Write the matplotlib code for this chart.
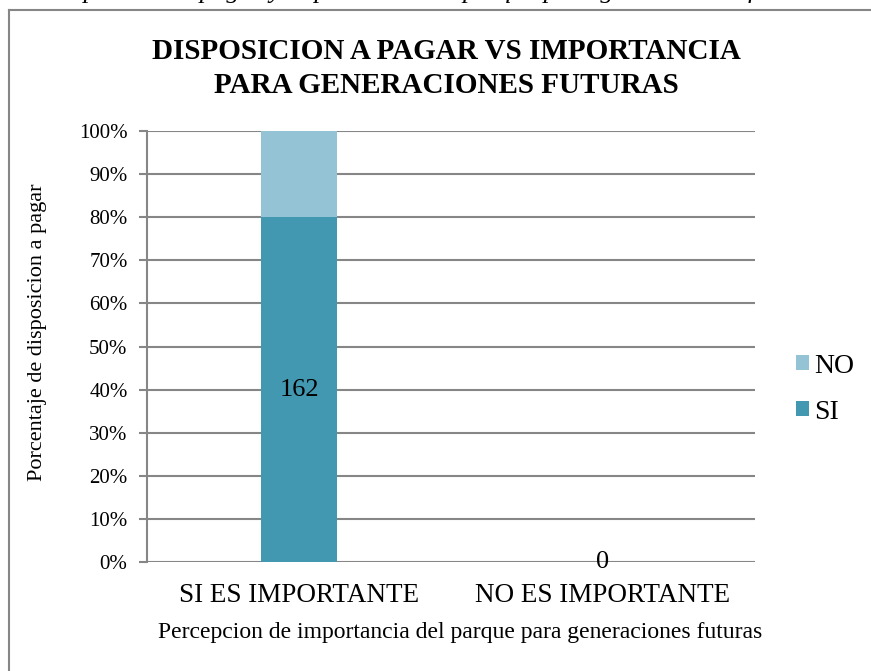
import numpy as np
import matplotlib
matplotlib.use('Agg')
import matplotlib.pyplot as plt
from matplotlib.lines import Line2D

plt.rcParams['font.family'] = ['Liberation Serif', 'DejaVu Serif']

# data
categories = ['SI ES IMPORTANTE', 'NO ES IMPORTANTE']
si_counts = [162, 0]
si_pct = [80, 0]
no_pct = [20, 0]
colors = {'SI': '#4298B0', 'NO': '#93C3D5'}

fig = plt.figure(figsize=(8.71, 6.71), dpi=100)
ax = fig.add_axes([147 / 871, 109 / 671, 608 / 871, 431 / 671])

x = np.arange(len(categories))
width = 0.253
b_si = ax.bar(x, si_pct, width, color=colors['SI'], label='SI', zorder=3)
b_no = ax.bar(x, no_pct, width, bottom=si_pct, color=colors['NO'], label='NO', zorder=3)

# data labels
for i, r in enumerate(b_si):
    ax.text(r.get_x() + r.get_width() / 2, si_pct[i] / 2, str(si_counts[i]),
            ha='center', va='center', fontsize=19, zorder=4)

ax.set_xlim(-0.5, 1.5)
ax.set_ylim(0, 100)
ax.set_yticks(np.arange(0, 101, 10))
ax.set_yticklabels(['{}%'.format(v) for v in range(0, 101, 10)], fontsize=15)
ax.set_xticks(x)
ax.set_xticklabels(categories, fontsize=19.5)
ax.tick_params(axis='x', length=0, pad=15)
ax.tick_params(axis='y', length=6, color='#868686', width=1.5, pad=8)
ax.yaxis.grid(True, color='#868686', lw=1.5, zorder=0)
for s in ['top', 'right', 'bottom']:
    ax.spines[s].set_visible(False)
ax.spines['left'].set_color('#868686')
ax.spines['left'].set_linewidth(1.5)

ax.set_ylabel('Porcentaje de disposicion a pagar', fontsize=16)
ax.yaxis.set_label_coords(-0.164, 0.534)
ax.set_xlabel('Percepcion de importancia del parque para generaciones futuras', fontsize=17)
ax.xaxis.set_label_coords(0.515, -0.139)

fig.text(0.513, 0.898, 'DISPOSICION A PAGAR VS IMPORTANCIA\nPARA GENERACIONES FUTURAS',
         ha='center', va='center', fontsize=21, fontweight='bold', linespacing=1.3)

handles, labels = ax.get_legend_handles_labels()
fig.legend(handles[::-1], labels[::-1], loc='center left', bbox_to_anchor=(0.914, 0.42),
           frameon=False, fontsize=20, handlelength=0.45, handleheight=0.45,
           handletextpad=0.2, labelspacing=0.75, borderaxespad=0, borderpad=0)

# outer frame (top and left edges visible)
fig.add_artist(Line2D([9 / 871, 9 / 871], [0, 1 - 10 / 671], transform=fig.transFigure,
                      color='#868686', lw=1.5))
fig.add_artist(Line2D([9 / 871, 1], [1 - 10 / 671, 1 - 10 / 671], transform=fig.transFigure,
                      color='#868686', lw=1.5))

# caption cut off at the top of the image
fig.text(0.5, 1 + 2 / 671, 'Disposición a pagar y importancia del parque para generaciones futuras',
         ha='center', va='baseline', fontsize=19, style='italic')

fig.savefig('out.png', dpi=100)
